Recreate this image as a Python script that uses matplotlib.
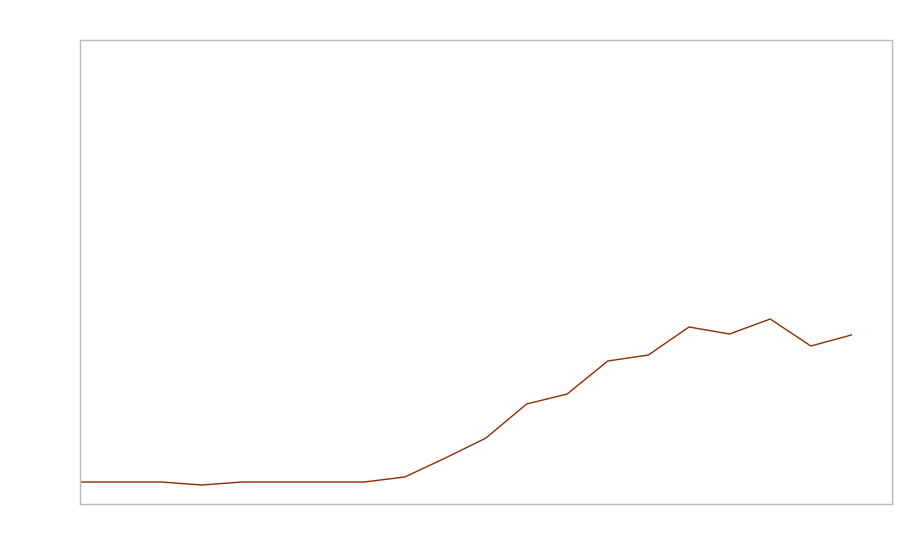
import matplotlib
matplotlib.use("Agg")
import matplotlib.pyplot as plt

# series (arbitrary units, no axis labels shown)
steps = list(range(20))
values = [22, 22, 22, 19, 22, 22, 22, 22, 27, 46, 66, 100, 110, 143, 149, 177, 170, 185, 158, 169]

fig = plt.figure(figsize=(9, 5.6), dpi=100)
ax = fig.add_axes([80 / 900, 56 / 560, 812 / 900, 464 / 560])
ax.plot(steps, values, color="#8c2d04", linewidth=1)
ax.set_xlim(0, 20)
ax.set_ylim(0, 464)
ax.set_xticks([])
ax.set_yticks([])
for s in ax.spines.values():
    s.set_color("#bbbbbb")
    s.set_linewidth(1)

fig.savefig("out.png", dpi=100)
